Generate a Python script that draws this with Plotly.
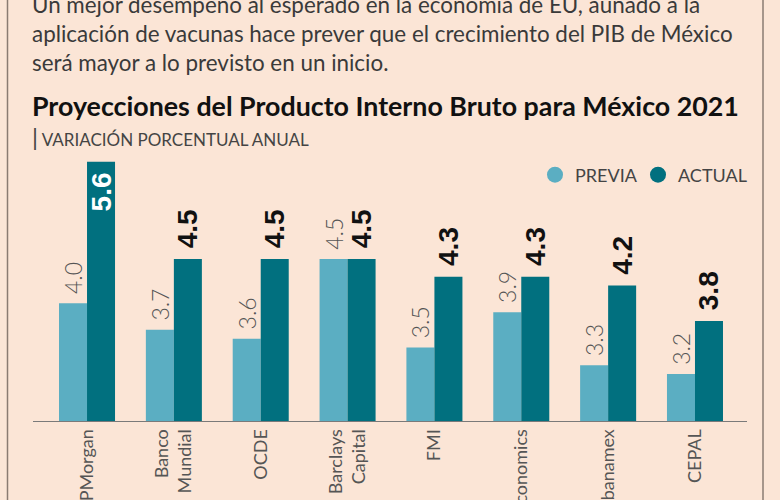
import plotly.graph_objects as go

categories = ["JPMorgan", "Banco<br>Mundial", "OCDE", "Barclays<br>Capital",
              "FMI", "Capital Economics", "Citibanamex", "CEPAL"]
previa = [4.0, 3.7, 3.6, 4.5, 3.5, 3.9, 3.3, 3.2]
actual = [5.6, 4.5, 4.5, 4.5, 4.3, 4.3, 4.2, 3.8]
series_names = ["PREVIA", "ACTUAL"]

body_text = ("Un mejor desempeño al esperado en la economía de EU, aunado a la<br>"
             "aplicación de vacunas hace prever que el crecimiento del PIB de México<br>"
             "será mayor a lo previsto en un inicio.")
title_text = "Proyecciones del Producto Interno Bruto para México 2021"
subtitle_text = "VARIACIÓN PORCENTUAL ANUAL"

BG = "#FBE5D6"
C_PREV = "#5BAEC2"
C_ACT = "#01707F"
NB = "\u00a0"

fig = go.Figure()

fig.add_trace(go.Bar(
    x=categories, y=previa, name=series_names[0], marker_color=C_PREV,
    marker_line_width=0, showlegend=False,
    text=[NB + f"{v:.1f}" for v in previa], textposition="outside",
    textangle=-90, constraintext="none", cliponaxis=False,
    outsidetextfont=dict(family="Lato", size=23, color="#555555", weight=300),
    hoverinfo="skip",
))

act_pos = ["inside" if v == max(actual) else "outside" for v in actual]
fig.add_trace(go.Bar(
    x=categories, y=actual, name=series_names[1], marker_color=C_ACT,
    marker_line_width=0, showlegend=False,
    text=[NB + f"{v:.1f}" + NB for v in actual], textposition=act_pos,
    textangle=-90, constraintext="none", cliponaxis=False,
    insidetextanchor="end",
    insidetextfont=dict(family="Liberation Sans", size=28, color="white", weight=700),
    outsidetextfont=dict(family="Liberation Sans", size=28, color="#111111", weight=700),
    hoverinfo="skip",
))

L, R, T, B = 33, 33, 140, 79
W, H = 780, 500
ph = H - T - B
pw = W - L - R
y0 = 2.67
ppu = 88.5

def py(p):  # pixel y -> paper y
    return (H - B - p) / ph

def px(p):
    return (p - L) / pw

# legend entries (circle symbols), one legend each
legend_x = [535, 638]
for i, (nm, col) in enumerate(zip(series_names, [C_PREV, C_ACT])):
    fig.add_trace(go.Scatter(x=[None], y=[None], mode="markers", name=nm,
                             marker=dict(symbol="circle", size=16, color=col),
                             showlegend=True, hoverinfo="skip",
                             legend="legend" if i == 0 else "legend2"))

leg_common = dict(orientation="h", y=py(175), xanchor="left", yanchor="middle",
                  bgcolor="rgba(0,0,0,0)", font=dict(family="Lato", size=18, color="#444444"),
                  itemclick=False)

frame = dict(color="#8a7b72", width=1.5)

fig.update_layout(
    width=W, height=H, autosize=False,
    margin=dict(l=L, r=R, t=T, b=B, pad=0, autoexpand=False),
    paper_bgcolor=BG, plot_bgcolor=BG,
    barmode="group", bargap=0.355, bargroupgap=0,
    font=dict(family="Lato", color="#444444"),
    showlegend=True,
    legend=dict(x=px(legend_x[0]), **leg_common),
    legend2=dict(x=px(legend_x[1]), **leg_common),
    xaxis=dict(type="category", range=[-0.622, 7.599], showgrid=False, zeroline=False,
               showline=True, linecolor="#7a7a7a", linewidth=1, ticks="",
               tickangle=-90, automargin=False,
               tickfont=dict(family="Lato", size=18, color="#555555")),
    yaxis=dict(range=[y0, y0 + ph / ppu], visible=False, showgrid=False, zeroline=False),
    annotations=[
        dict(text=body_text, xref="paper", yref="paper", x=px(30), y=py(33),
             xanchor="left", yanchor="middle", align="left", showarrow=False,
             font=dict(family="Lato", size=22.4, color="#3a3a3a")),
        dict(text="<b>" + title_text + "</b>", xref="paper", yref="paper", x=px(30), y=py(106),
             xanchor="left", yanchor="middle", align="left", showarrow=False,
             font=dict(family="Lato", size=26.8, color="#111111")),
        dict(text="<span style='font-size:24px'>|</span> " + subtitle_text,
             xref="paper", yref="paper", x=px(30), y=py(137),
             xanchor="left", yanchor="middle", align="left", showarrow=False,
             font=dict(family="Lato", size=17, color="#444444")),
    ],
    shapes=[
        dict(type="line", xref="paper", yref="paper", x0=px(7.5), x1=px(7.5),
             y0=py(520), y1=py(-20), line=frame, layer="above"),
        dict(type="line", xref="paper", yref="paper", x0=px(763), x1=px(763),
             y0=py(520), y1=py(-20), line=frame, layer="above"),
    ],
)

fig.write_html("out.html",
               config={"displayModeBar": False},
               post_script="document.body.style.margin='0';"
                           "document.body.style.background='" + BG + "';"
                           "document.body.style.overflow='hidden';")
